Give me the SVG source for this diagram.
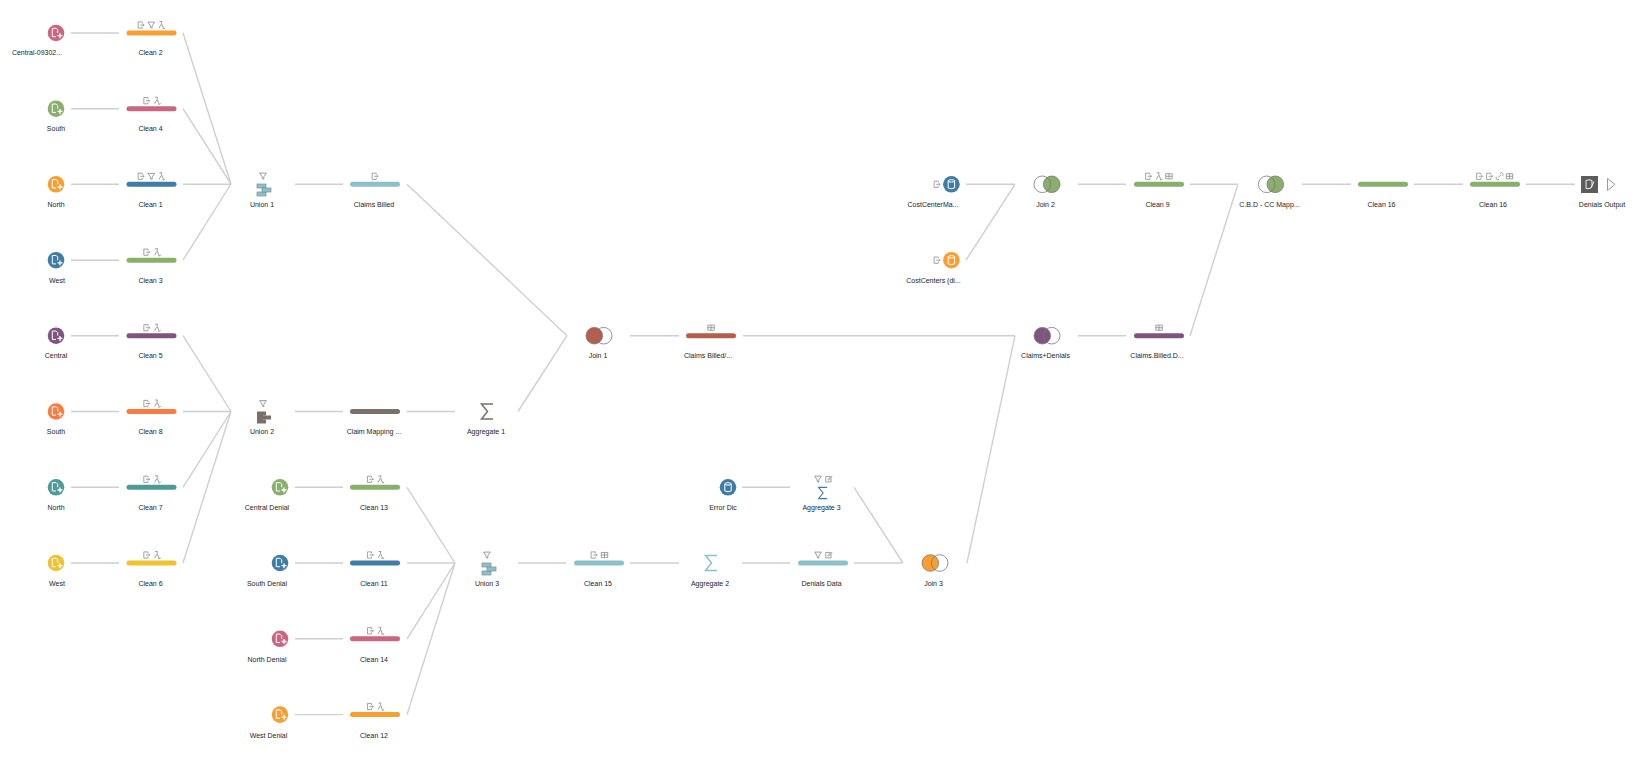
<svg xmlns="http://www.w3.org/2000/svg" width="1632" height="760" viewBox="0 0 1632 760">
<style>
text{font-family:"Liberation Sans",Arial,sans-serif;font-size:7px;fill:#1c1c1c;text-anchor:middle}
.c{stroke:#cfcfcf;stroke-width:1.4;fill:none}
.i{fill:none;stroke:#8f8f8f;stroke-width:1}
.w{fill:none;stroke:#fff;stroke-width:1}
.j{fill:none;stroke:#777;stroke-width:.8}
.o{fill:#F89F33}.p{fill:#CB6680}.g{fill:#8AAE6C}.b{fill:#3F7CA6}.t{fill:#8CC0CA}.u{fill:#7F557F}.e{fill:#F97B3F}.q{fill:#4E9A96}.y{fill:#F1C232}.n{fill:#7B7069}.s{fill:#B55E4C}
</style>
<defs>
<g id="file"><path class="w" d="M-3.700-4.700H.2L1.700-3.200V0M-3.700-4.700V3.700H0"/><path d="M4 .2V5.200M1.500 2.700H6.500" stroke="#fff" stroke-width="1.300" fill="none"/></g>
<g id="db"><ellipse class="w" cx="0" cy="-3.400" rx="3.200" ry="1.200"/><path class="w" d="M-3.200-3.400V3.600Q0 5.400 3.200 3.600V-3.400"/></g>
<g id="out" transform="scale(.82)"><path class="i" d="M1.500-2V-3.800H-3.500V3.800H1.500V2M-1 0H3.800M2.400-1.400L3.800 0L2.400 1.400"/></g>
<g id="fil" transform="scale(.88)"><path class="i" d="M-3.800-3.300H3.800L.9 1V3.600L-.9 3V1Z"/></g>
<g id="cal" transform="scale(.88)"><path class="i" d="M-2.500-4H.2L-.3-2L2 3.500M-.6-.8L-3 3.500M1 4Q2.500 4.600 4 3.200"/></g>
<g id="grd" transform="scale(.85)"><path class="i" d="M-3.800-3H3.800V3H-3.800ZM0-3V3M-3.800 0H3.800"/></g>
<g id="lnk" transform="scale(.85)"><path class="i" d="M-1.500 1.500L1.500-1.500M-3.500.5A2 2 0 0 0-.5 3.500M3.500-.5A2 2 0 0 0 .5-3.500"/></g>
<g id="edt" transform="scale(.85)"><path class="i" d="M2-3H-3.200V3.500H3V-1M-.8.800L3.200-3.500L4-2.700L0 1.500Z"/></g>
<path id="sig" d="M6-7.500H-5.500L.5 0L-5.500 7.500H6" fill="none" stroke-width="1.500"/>
<rect id="bar" x="-25" y="-2.500" width="50" height="5" rx="2.500"/>
</defs>

<g id="connectors">
<path class="c" d="M71 33H119M183 33L231 184M71 108.700H119M183 108.700L231 184M71 184.300H119M183 184.300H231M71 260.200H119M183 260.200L231 184M295 184.300H343M407 184.300L567 335.700"/>
<path class="c" d="M71 335.700H119M183 335.700L231 411.500M71 411.500H119M183 411.500H231M71 487.300H119M183 487.300L231 411.500M71 563H119M183 563L231 411.500M295 411.500H343M407 411.500H455M518 411.500L567 335.700"/>
<path class="c" d="M295 487.300H343M407 487.300L455 563M295 563H343M407 563H455M295 638.800H343M407 638.800L455 563M295 714.600H343M407 714.600L455 563M518 563H566M630 563H679M742 563H790M854 563H902M742 487.300H790M854 487.300L903 563"/>
<path class="c" d="M630 335.700H679M743 335.700H1015M967 563L1015 335.700M1078 335.700H1126M1190 335.700L1238 184.300M966 184.300H1015M966 260.200L1015 184.300M1078 184.300H1126M1190 184.300H1238M1302 184.300H1351M1414 184.300H1463M1526 184.300H1575"/>
</g>

<g id="n1"><circle class="p" cx="56" cy="33" r="8.300"/><use href="#file" x="56" y="33"/><text x="37" y="55">Central-09302...</text></g>
<g id="n2"><circle class="g" cx="56" cy="108.700" r="8.300"/><use href="#file" x="56" y="108.700"/><text x="56" y="131">South</text></g>
<g id="n3"><circle class="o" cx="56" cy="184.300" r="8.300"/><use href="#file" x="56" y="184.300"/><text x="56" y="207">North</text></g>
<g id="n4"><circle class="b" cx="56" cy="260.200" r="8.300"/><use href="#file" x="56" y="260.200"/><text x="57" y="283">West</text></g>
<g id="n5"><circle class="u" cx="56" cy="335.700" r="8.300"/><use href="#file" x="56" y="335.700"/><text x="56" y="358">Central</text></g>
<g id="n6"><circle class="e" cx="56" cy="411.500" r="8.300"/><use href="#file" x="56" y="411.500"/><text x="56" y="434">South</text></g>
<g id="n7"><circle class="q" cx="56" cy="487.300" r="8.300"/><use href="#file" x="56" y="487.300"/><text x="56" y="510">North</text></g>
<g id="n8"><circle class="y" cx="56" cy="563" r="8.300"/><use href="#file" x="56" y="563"/><text x="57" y="586">West</text></g>

<g id="n9"><use href="#bar" class="o" x="151.500" y="33"/><use href="#out" x="141" y="25"/><use href="#fil" x="151.300" y="25"/><use href="#cal" x="161.700" y="25"/><text x="150.500" y="55">Clean 2</text></g>
<g id="n10"><use href="#bar" class="p" x="151.500" y="108.700"/><use href="#out" x="146.700" y="100.700"/><use href="#cal" x="157.300" y="100.700"/><text x="150.500" y="131">Clean 4</text></g>
<g id="n11"><use href="#bar" class="b" x="151.500" y="184.300"/><use href="#out" x="141" y="176.300"/><use href="#fil" x="151.300" y="176.300"/><use href="#cal" x="161.700" y="176.300"/><text x="150.500" y="207">Clean 1</text></g>
<g id="n12"><use href="#bar" class="g" x="151.500" y="260.200"/><use href="#out" x="146.700" y="252.200"/><use href="#cal" x="157.300" y="252.200"/><text x="150.500" y="283">Clean 3</text></g>
<g id="n13"><use href="#bar" class="u" x="151.500" y="335.700"/><use href="#out" x="146.700" y="327.700"/><use href="#cal" x="157.300" y="327.700"/><text x="150.500" y="358">Clean 5</text></g>
<g id="n14"><use href="#bar" class="e" x="151.500" y="411.500"/><use href="#out" x="146.700" y="403.500"/><use href="#cal" x="157.300" y="403.500"/><text x="150.500" y="434">Clean 8</text></g>
<g id="n15"><use href="#bar" class="q" x="151.500" y="487.300"/><use href="#out" x="146.700" y="479.300"/><use href="#cal" x="157.300" y="479.300"/><text x="150.500" y="510">Clean 7</text></g>
<g id="n16"><use href="#bar" class="y" x="151.500" y="563"/><use href="#out" x="146.700" y="555"/><use href="#cal" x="157.300" y="555"/><text x="150.500" y="586">Clean 6</text></g>

<g id="n17"><use href="#fil" x="263" y="176"/><g class="t" stroke="#7d8f94" stroke-width=".7"><rect x="257" y="184" width="9" height="4"/><rect x="257" y="192" width="9" height="4"/><rect x="262" y="188" width="9" height="4"/></g><text x="262" y="207">Union 1</text></g>
<g id="n18"><use href="#bar" class="t" x="375" y="184.300"/><use href="#out" x="375" y="176.300"/><text x="374" y="207">Claims Billed</text></g>
<g id="n19"><use href="#fil" x="263" y="403.500"/><g class="n"><rect x="257" y="411.500" width="9" height="4"/><rect x="257" y="419.500" width="9" height="4"/><rect x="262" y="415.500" width="9" height="4"/><rect x="257" y="414" width="6" height="7"/></g><text x="262" y="434">Union 2</text></g>
<g id="n20"><use href="#bar" class="n" x="375" y="411.500"/><text x="374" y="434">Claim Mapping ...</text></g>
<g id="n21"><use href="#sig" stroke="#7B7069" x="487" y="411.500"/><text x="486" y="434">Aggregate 1</text></g>

<g id="n22"><circle class="g" cx="280" cy="487.300" r="8.300"/><use href="#file" x="280" y="487.300"/><text x="267" y="510">Central Denial</text></g>
<g id="n23"><circle class="b" cx="280" cy="563" r="8.300"/><use href="#file" x="280" y="563"/><text x="267" y="586">South Denial</text></g>
<g id="n24"><circle class="p" cx="280" cy="638.800" r="8.300"/><use href="#file" x="280" y="638.800"/><text x="267" y="662">North Denial</text></g>
<g id="n25"><circle class="o" cx="280" cy="714.600" r="8.300"/><use href="#file" x="280" y="714.600"/><text x="268.500" y="738">West Denial</text></g>

<g id="n26"><use href="#bar" class="g" x="375" y="487.300"/><use href="#out" x="370.300" y="479.300"/><use href="#cal" x="380.700" y="479.300"/><text x="374" y="510">Clean 13</text></g>
<g id="n27"><use href="#bar" class="b" x="375" y="563"/><use href="#out" x="370.300" y="555"/><use href="#cal" x="380.700" y="555"/><text x="374" y="586">Clean 11</text></g>
<g id="n28"><use href="#bar" class="p" x="375" y="638.800"/><use href="#out" x="370.300" y="630.800"/><use href="#cal" x="380.700" y="630.800"/><text x="374" y="662">Clean 14</text></g>
<g id="n29"><use href="#bar" class="o" x="375" y="714.600"/><use href="#out" x="370.300" y="706.600"/><use href="#cal" x="380.700" y="706.600"/><text x="374" y="738">Clean 12</text></g>

<g id="n30"><use href="#fil" x="487" y="555"/><g class="t" stroke="#7d8f94" stroke-width=".7"><rect x="482" y="563" width="9" height="4"/><rect x="482" y="571" width="9" height="4"/><rect x="487" y="567" width="9" height="4"/></g><text x="487" y="586">Union 3</text></g>
<g id="n31"><use href="#bar" class="t" x="599" y="563"/><use href="#out" x="594" y="555"/><use href="#grd" x="604.500" y="555"/><text x="598" y="586">Clean 15</text></g>
<g id="n32"><use href="#sig" stroke="#8CC0CA" x="711" y="563"/><text x="710" y="586">Aggregate 2</text></g>
<g id="n33"><use href="#bar" class="t" x="823" y="563"/><use href="#fil" x="818" y="555"/><use href="#edt" x="828.500" y="555"/><text x="821.500" y="586">Denials Data</text></g>
<g id="n34"><circle class="b" cx="728" cy="487.300" r="8.300"/><use href="#db" x="728" y="487.300"/><text x="723" y="510">Error Dic</text></g>
<g id="n35"><use href="#fil" x="818" y="479"/><use href="#edt" x="828.500" y="479"/><use href="#sig" stroke="#3F7CA6" transform="translate(822.700 493) scale(.75)"/><text x="821.500" y="510">Aggregate 3</text></g>

<g id="n36"><circle class="s" cx="594.300" cy="335.700" r="8.300"/><circle class="j" cx="603.700" cy="335.700" r="8.300"/><circle class="j" cx="594.300" cy="335.700" r="8.300"/><text x="598" y="358">Join 1</text></g>
<g id="n37"><use href="#bar" class="s" x="711" y="335.700"/><use href="#grd" x="711" y="327.700"/><text x="708" y="358">Claims Billed/...</text></g>
<g id="n38"><circle class="o" cx="930.300" cy="563" r="8.300"/><circle class="j" cx="939.700" cy="563" r="8.300"/><circle class="j" cx="930.300" cy="563" r="8.300"/><text x="933.500" y="586">Join 3</text></g>
<g id="n39"><circle class="u" cx="1042.300" cy="335.700" r="8.300"/><circle class="j" cx="1051.700" cy="335.700" r="8.300"/><circle class="j" cx="1042.300" cy="335.700" r="8.300"/><text x="1045.500" y="358">Claims+Denials</text></g>
<g id="n40"><use href="#bar" class="u" x="1159" y="335.700"/><use href="#grd" x="1159" y="327.700"/><text x="1157" y="358">Claims.Billed.D...</text></g>

<g id="n41"><use href="#out" x="937" y="184.300"/><circle class="b" cx="951.400" cy="184.300" r="8.300"/><use href="#db" x="951.400" y="184.300"/><text x="933" y="207">CostCenterMa...</text></g>
<g id="n42"><use href="#out" x="937" y="260.200"/><circle class="o" cx="951.400" cy="260.200" r="8.300"/><use href="#db" x="951.400" y="260.200"/><text x="933.500" y="283">CostCenters (di...</text></g>
<g id="n43"><circle class="g" cx="1051.700" cy="184.300" r="8.300"/><circle class="j" cx="1042.300" cy="184.300" r="8.300"/><circle class="j" cx="1051.700" cy="184.300" r="8.300"/><text x="1045.500" y="207">Join 2</text></g>
<g id="n44"><use href="#bar" class="g" x="1159" y="184.300"/><use href="#out" x="1148.500" y="176.300"/><use href="#cal" x="1159" y="176.300"/><use href="#grd" x="1169" y="176.300"/><text x="1157.500" y="207">Clean 9</text></g>
<g id="n45"><circle class="g" cx="1275.300" cy="184.300" r="8.300"/><circle class="j" cx="1266.700" cy="184.300" r="8.300"/><circle class="j" cx="1275.300" cy="184.300" r="8.300"/><text x="1269.500" y="207">C.B.D - CC Mapp...</text></g>
<g id="n46"><use href="#bar" class="g" x="1383" y="184.300"/><text x="1381.500" y="207">Clean 16</text></g>
<g id="n47"><use href="#bar" class="g" x="1495" y="184.300"/><use href="#out" x="1479.500" y="176.300"/><use href="#out" x="1489.500" y="176.300"/><use href="#lnk" x="1499.500" y="176.300"/><use href="#grd" x="1509.500" y="176.300"/><text x="1493" y="207">Clean 16</text></g>
<g id="n48"><rect x="1581" y="176" width="17" height="17" fill="#5c5c5c"/><path d="M1586 180.500Q1589 179 1592 180.500V186L1590 188.500H1586ZM1590 188.500L1591.500 187L1594 181.500" fill="none" stroke="#fff" stroke-width=".9"/><path d="M1607.500 178.500L1615 184.500L1607.500 190.500Z" fill="#fff" stroke="#999"/><text x="1602" y="207">Denials Output</text></g>
</svg>
